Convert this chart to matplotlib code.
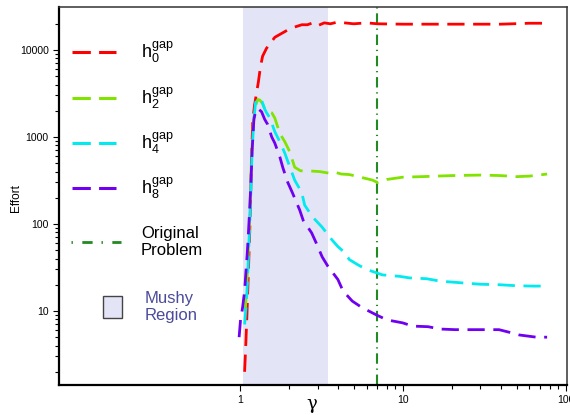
import matplotlib
matplotlib.use("Agg")
import matplotlib.pyplot as plt
from matplotlib.patches import Rectangle
from matplotlib.ticker import FixedLocator, FixedFormatter, NullFormatter

plt.rcParams["font.family"] = ["Liberation Sans", "DejaVu Sans"]
plt.rcParams["mathtext.fontset"] = "custom"
plt.rcParams["mathtext.rm"] = "Liberation Sans"
plt.rcParams["mathtext.it"] = "Liberation Sans"

# ---- data ----
gamma_h0 = [1.07, 1.09, 1.11, 1.13, 1.15, 1.165, 1.18, 1.20, 1.23, 1.27, 1.30, 1.34,
            1.38, 1.46, 1.64, 1.97, 2.2, 2.4, 2.6, 2.8, 3.0, 3.3, 3.6, 4.0, 4.4, 5.0,
            6.0, 7.0, 10, 20, 40, 60, 77]
effort_h0 = [2.0, 4.5, 11, 30, 80, 200, 600, 1500, 2300, 3300, 4300, 6500,
             8500, 10500, 14000, 17000, 18500, 19500, 19500, 20500, 19000, 20500, 20000, 21000, 20500, 20000,
             20500, 20000, 19800, 19800, 19800, 20300, 20300]

gamma_h2 = [1.08, 1.10, 1.12, 1.14, 1.16, 1.18, 1.21, 1.25, 1.29, 1.33, 1.38, 1.44,
            1.50, 1.57, 1.64, 1.76, 1.89, 2.03, 2.17, 2.35, 2.5, 2.8, 3.1, 3.5, 3.8,
            4.2, 4.7, 5.5, 6.5, 7.0, 8.0, 10, 13, 20, 30, 40, 50, 60, 77]
effort_h2 = [10, 18, 35, 80, 200, 600, 1400, 2300, 2700, 2650, 2400, 2000,
             1950, 1900, 1650, 1100, 880, 670, 450, 410, 405, 405, 400, 385, 395,
             375, 370, 345, 320, 300, 325, 345, 350, 360, 365, 360, 350, 355, 375]

gamma_h4 = [1.07, 1.095, 1.115, 1.13, 1.15, 1.17, 1.19, 1.22, 1.25, 1.29, 1.33, 1.37,
            1.42, 1.46, 1.53, 1.64, 1.76, 1.89, 2.03, 2.17, 2.4, 2.5, 2.8, 3.2, 3.67,
            4.0, 4.4, 4.7, 5.3, 6.0, 6.7, 7.5, 9.6, 11, 14, 17, 20, 25, 30, 40, 50,
            65, 77]
effort_h4 = [7, 12, 22, 45, 100, 250, 700, 1600, 2500, 2800, 2700, 2550,
             2100, 1900, 1650, 1150, 880, 650, 450, 320, 230, 165, 120, 92, 66,
             55, 47, 39, 34, 30, 28, 26, 25, 24, 23.5, 22, 21.5, 20.8, 20.3, 20, 19.5,
             19.3, 19.4]

gamma_h8 = [0.99, 1.01, 1.04, 1.07, 1.09, 1.11, 1.13, 1.15, 1.17, 1.19, 1.22, 1.26,
            1.30, 1.36, 1.42, 1.48, 1.57, 1.64, 1.76, 1.84, 1.97, 2.1, 2.33, 2.45,
            2.76, 2.95, 3.2, 3.46, 4.0, 4.3, 4.9, 5.6, 6.9, 8, 10, 11.5, 14.3, 17,
            21, 25, 31, 39, 45, 52, 66, 77]
effort_h8 = [5, 7.9, 11, 17, 28, 45, 80, 150, 300, 700, 1600, 2100,
             2100, 1950, 1600, 1400, 1000, 850, 590, 440, 300, 230, 145, 110,
             79, 60, 42, 33, 23, 17, 13, 11, 9, 7.9, 7.3, 6.7, 6.6, 6.2,
             6.1, 6.1, 6.1, 6.1, 5.7, 5.3, 5.0, 5.0]

mushy_lo, mushy_hi = 1.04, 3.47
original_gamma = 6.93

series = [
    (gamma_h0, effort_h0, "#ff0000", r"h$_{\mathrm{0}}^{\mathrm{gap}}$"),
    (gamma_h2, effort_h2, "#80e400", r"h$_{\mathrm{2}}^{\mathrm{gap}}$"),
    (gamma_h4, effort_h4, "#00eaf0", r"h$_{\mathrm{4}}^{\mathrm{gap}}$"),
    (gamma_h8, effort_h8, "#7000f0", r"h$_{\mathrm{8}}^{\mathrm{gap}}$"),
]
ORIG_COLOR = "#238a23"
MUSHY_COLOR = "#e4e4f7"
DASH = (0, (6.2, 3.1))

W, H = 570, 415
fig = plt.figure(figsize=(W / 100, H / 100), dpi=100)
ax = fig.add_axes([59 / W, 30 / H, 508 / W, 378 / H])


def px(x, y):
    # figure pixel (from top-left) -> axes fraction
    return (x - 59) / 508, (385 - y) / 378


ax.axvspan(mushy_lo, mushy_hi, color=MUSHY_COLOR, lw=0, zorder=0)
for g, e, c, _ in series:
    ax.plot(g, e, color=c, lw=2.0, ls=DASH, zorder=3)
ax.axvline(original_gamma, color=ORIG_COLOR, lw=1.5, ls=(0, (5, 2.3, 0.6, 2.3)), zorder=2)

ax.set_xscale("log")
ax.set_yscale("log")
ax.set_xlim(0.0776, 102)
ax.set_ylim(1.41, 31200)

ax.xaxis.set_major_locator(FixedLocator([1, 10, 100]))
ax.xaxis.set_major_formatter(FixedFormatter(["1", "10", "100"]))
ax.xaxis.set_minor_locator(FixedLocator([m * d for d in (1, 10) for m in range(2, 10)]))
ax.xaxis.set_minor_formatter(NullFormatter())
ax.yaxis.set_major_locator(FixedLocator([10, 100, 1000, 10000]))
ax.yaxis.set_major_formatter(FixedFormatter(["10", "100", "1000", "10000"]))
ymin = [m * d for d in (1, 10, 100, 1000) for m in range(2, 10)] + [20000]
ax.yaxis.set_minor_locator(FixedLocator(ymin))
ax.yaxis.set_minor_formatter(NullFormatter())
ax.tick_params(which="major", direction="out", length=4.5, width=0.8, labelsize=7.5, pad=3)
ax.tick_params(which="minor", direction="out", length=3, width=0.8)

for s in ("left", "bottom"):
    ax.spines[s].set_linewidth(1.6)
for s in ("top", "right"):
    ax.spines[s].set_linewidth(1.1)
    ax.spines[s].set_color("#333333")

# legend drawn by hand
rows = [52, 98, 143, 188]
for (g, e, c, lab), y in zip(series, rows):
    (x0, yy), (x1, _) = px(72, y), px(116, y)
    ax.plot([x0, x1], [yy, yy], transform=ax.transAxes, color=c, lw=2.2,
            ls=(0, (6, 2.7)), clip_on=False, zorder=5)
    tx, ty = px(141, y)
    ax.text(tx, ty, lab, transform=ax.transAxes, fontsize=13, va="center", ha="left")

(x0, yy), (x1, _) = px(71, 242), px(121, 242)
ax.plot([x0, x1], [yy, yy], transform=ax.transAxes, color=ORIG_COLOR, lw=2.0,
        ls=(0, (0.5, 3.4, 3.7, 3.2)), zorder=5)
tx, ty = px(141, 242)
ax.text(tx, ty, "Original\nProblem", transform=ax.transAxes, fontsize=12,
        va="center", ha="left")

rx, ry = px(103, 318)
ax.add_patch(Rectangle((rx, ry), 19 / 508, 22 / 378, transform=ax.transAxes,
                       facecolor=MUSHY_COLOR, edgecolor="#444444", lw=1.0, zorder=5))
tx, ty = px(145, 307)
ax.text(tx, ty, "Mushy\nRegion", transform=ax.transAxes, fontsize=12,
        va="center", ha="left", color="#4b4b9b")

fig.text(16 / W, 1 - 198 / H, "Effort", rotation=90, fontsize=8.5,
         ha="center", va="center")
fig.text(312 / W, 1 - 404 / H, "γ", fontsize=13, ha="center", va="center",
         family="DejaVu Serif")

fig.savefig("out.png", dpi=100)
